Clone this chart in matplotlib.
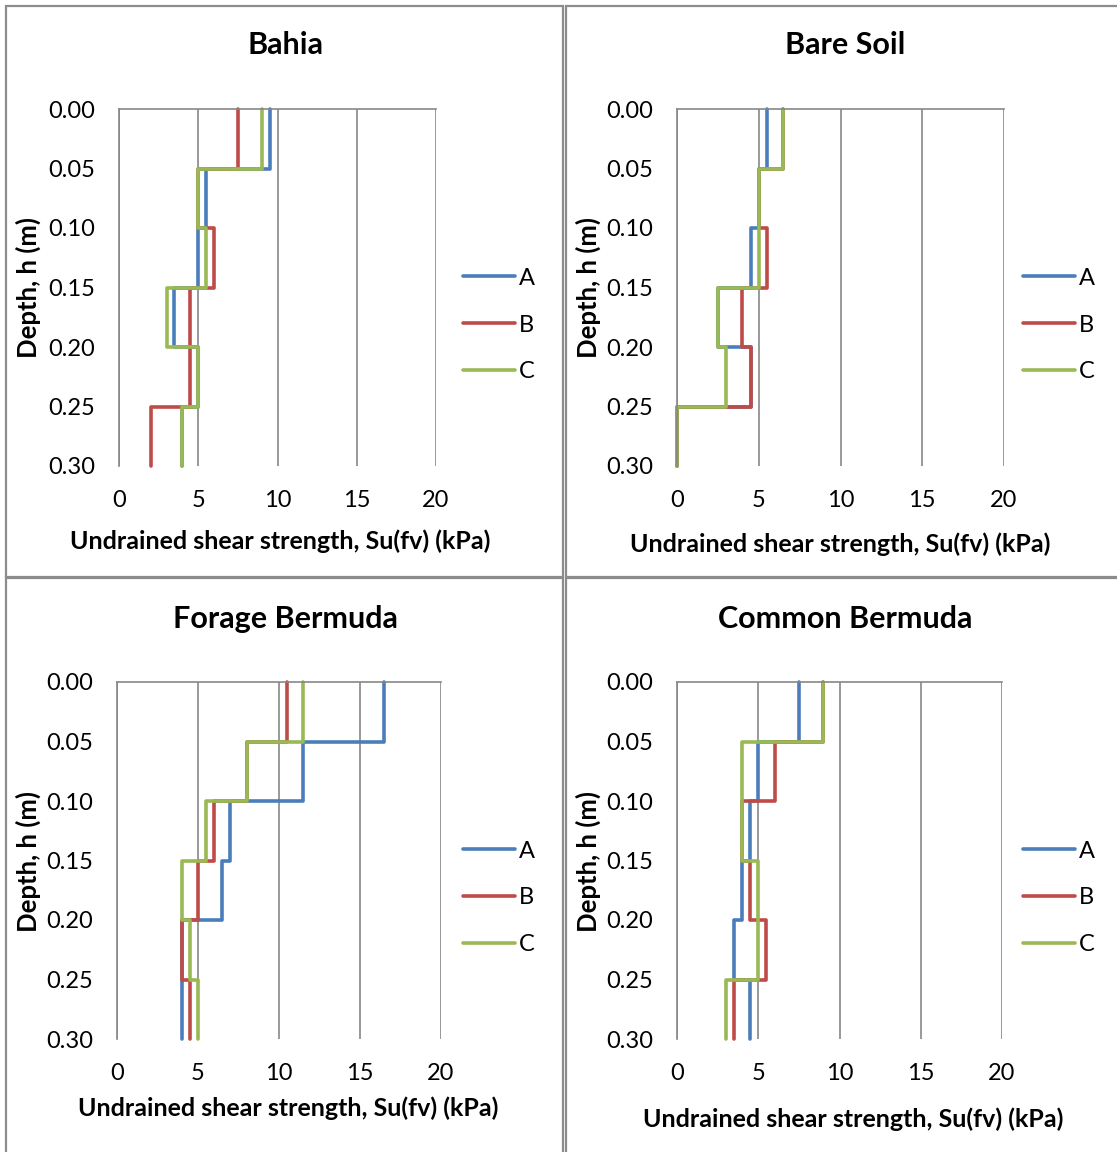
import numpy as np
import matplotlib.pyplot as plt
from matplotlib.patches import Rectangle

# Depth interval edges (m) and vane shear strength per 0.05 m layer (kPa)
depth_edges = [0.00, 0.05, 0.10, 0.15, 0.20, 0.25, 0.30]
series_names = ['A', 'B', 'C']

bahia_a = [9.5, 5.5, 5.0, 3.5, 5.0, 4.0]
bahia_b = [7.5, 5.0, 6.0, 4.5, 4.5, 2.0]
bahia_c = [9.0, 5.0, 5.5, 3.0, 5.0, 4.0]

bare_a = [5.5, 5.0, 4.5, 2.5, 4.5, 0.0]
bare_b = [6.5, 5.0, 5.5, 4.0, 4.5, 0.0]
bare_c = [6.5, 5.0, 5.0, 2.5, 3.0, 0.0]

forage_a = [16.5, 11.5, 7.0, 6.5, 4.0, 4.0]
forage_b = [10.5, 8.0, 6.0, 5.0, 4.0, 4.5]
forage_c = [11.5, 8.0, 5.5, 4.0, 4.5, 5.0]

common_a = [7.5, 5.0, 4.5, 4.0, 3.5, 4.5]
common_b = [9.0, 6.0, 4.0, 4.5, 5.5, 3.5]
common_c = [9.0, 4.0, 4.0, 5.0, 5.0, 3.0]

x_ticks = [0, 5, 10, 15, 20]
y_ticks = [0.00, 0.05, 0.10, 0.15, 0.20, 0.25, 0.30]

colors = ['#4A7EBB', '#BE4B48', '#98B954']
grid_color = '#878787'

plt.rcParams['font.family'] = ['Lato', 'DejaVu Sans']

W, H = 1117, 1152
fig = plt.figure(figsize=(W / 100, H / 100), dpi=100)


def fx(px):
    return px / W


def fy(py):
    return 1 - py / H


# Chart-area frames
for x0, y0, x1, y1 in [(6, 6, 563, 577), (566, 6, 1125, 577),
                       (6, 578, 563, 1160), (566, 578, 1125, 1160)]:
    fig.add_artist(Rectangle((fx(x0), fy(y1)), fx(x1) - fx(x0), fy(y0) - fy(y1),
                             transform=fig.transFigure, fill=False,
                             edgecolor='#8c8c8c', linewidth=1.6))

panels = [
    dict(title='Bahia', data=[bahia_a, bahia_b, bahia_c],
         box=(119, 109, 436, 466), title_xy=(285, 45), xlab_xy=(280, 541),
         ylab_xy=(28, 287), leg_xy=(463, 325)),
    dict(title='Bare Soil', data=[bare_a, bare_b, bare_c],
         box=(677, 109, 1004, 466), title_xy=(845, 45), xlab_xy=(840, 544),
         ylab_xy=(588, 287), leg_xy=(1023, 325)),
    dict(title='Forage Bermuda', data=[forage_a, forage_b, forage_c],
         box=(117, 682, 441, 1039), title_xy=(285, 619), xlab_xy=(288, 1108),
         ylab_xy=(28, 861), leg_xy=(463, 898)),
    dict(title='Common Bermuda', data=[common_a, common_b, common_c],
         box=(677, 682, 1002, 1039), title_xy=(845, 619), xlab_xy=(853, 1119),
         ylab_xy=(588, 861), leg_xy=(1023, 898)),
]

tick_fs = 17
for p in panels:
    x0, y0, x1, y1 = p['box']
    ax = fig.add_axes([fx(x0), fy(y1), fx(x1) - fx(x0), fy(y0) - fy(y1)])

    edges = np.array(depth_edges)
    yy = np.repeat(edges, 2)[1:-1]
    for vals, name, c in zip(p['data'], series_names, colors):
        xx = np.repeat(np.array(vals), 2)
        ax.plot(xx, yy, color=c, linewidth=2.6, label=name,
                solid_joinstyle='round', solid_capstyle='round', clip_on=False)

    ax.set_xlim(0, 20)
    ax.set_ylim(0.30, 0.00)
    ax.set_xticks(x_ticks)
    ax.set_yticks(y_ticks)
    ax.set_yticklabels(['%.2f' % v for v in y_ticks])
    ax.tick_params(length=0, labelsize=tick_fs)
    ax.tick_params(axis='x', pad=17)
    ax.tick_params(axis='y', pad=17)
    ax.grid(axis='x', color=grid_color, linewidth=1.2)
    ax.set_axisbelow(True)
    for side in ['bottom', 'right']:
        ax.spines[side].set_visible(False)
    for side in ['top', 'left']:
        ax.spines[side].set_color(grid_color)
        ax.spines[side].set_linewidth(1.2)

    fig.text(fx(p['title_xy'][0]), fy(p['title_xy'][1]), p['title'],
             ha='center', va='center', fontsize=22, fontweight='bold')
    fig.text(fx(p['xlab_xy'][0]), fy(p['xlab_xy'][1]),
             'Undrained shear strength, Su(fv) (kPa)',
             ha='center', va='center', fontsize=18, fontweight='bold')
    fig.text(fx(p['ylab_xy'][0]), fy(p['ylab_xy'][1]), 'Depth, h (m)',
             ha='center', va='center', rotation=90, fontsize=18.5,
             fontweight='bold')

    ax.legend(loc='center left', bbox_to_anchor=(fx(p['leg_xy'][0]), fy(p['leg_xy'][1])),
              bbox_transform=fig.transFigure, frameon=False, fontsize=tick_fs,
              handlelength=2.2, handletextpad=0.15, labelspacing=1.1,
              borderpad=0, borderaxespad=0)

fig.savefig('out.png', dpi=100, facecolor='white')
